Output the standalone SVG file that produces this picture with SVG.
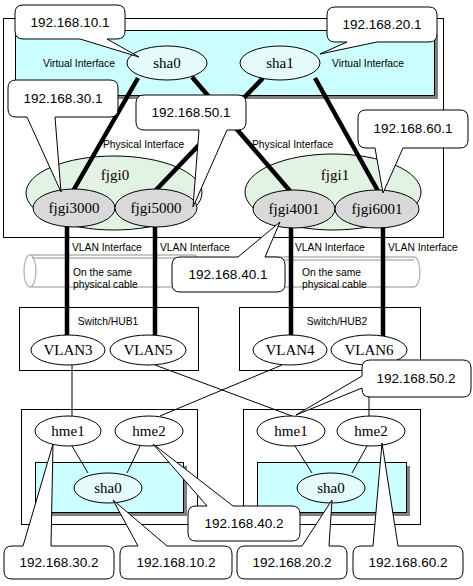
<svg xmlns="http://www.w3.org/2000/svg" width="473" height="586" viewBox="0 0 473 586">
<style>
.box{fill:none;stroke:#000;stroke-width:1}
.cyan{fill:#ccffff;stroke:#000;stroke-width:1}
.shadow{fill:#808080;stroke:none}
.vif{fill:#e6fbfb;stroke:#000;stroke-width:1}
.grp{fill:#e3f3e3;stroke:#000;stroke-width:1}
.pif{fill:#d9d9d9;stroke:#000;stroke-width:1}
.plain{fill:#fff;stroke:#000;stroke-width:1}
.thick{stroke:#000;stroke-width:4.5;fill:none}
.thin{stroke:#000;stroke-width:1;fill:none}
.cable{fill:none;stroke:#b4b4b4;stroke-width:1.3}
.call{fill:#fff;stroke:#000;stroke-width:1}
.ip{font-family:"Liberation Sans",Arial,sans-serif;font-size:13.5px;text-anchor:middle;fill:#000}
.nm{font-family:"Liberation Serif","Times New Roman",serif;font-size:15px;text-anchor:middle;fill:#000}
.lb{font-family:"Liberation Sans",Arial,sans-serif;font-size:10.3px;fill:#000}
</style>

<g id="server-frame">
<rect class="box" x="3.5" y="18.5" width="440" height="219"/>
<rect class="shadow" x="19" y="34" width="419" height="65"/>
<rect class="cyan" x="15.5" y="30.5" width="419" height="65"/>
<text class="lb" x="43" y="67">Virtual Interface</text>
<text class="lb" x="332" y="67">Virtual Interface</text>
<text class="lb" x="103" y="148">Physical Interface</text>
<text class="lb" x="252" y="148">Physical Interface</text>
</g>

<g id="fjgi0"><ellipse class="grp" cx="114" cy="193" rx="88" ry="37"/><text class="nm" x="115" y="180">fjgi0</text></g>
<g id="fjgi1"><ellipse class="grp" cx="333" cy="192" rx="88" ry="38"/><text class="nm" x="335" y="180">fjgi1</text></g>

<g id="cables">
<path class="cable" d="M30,255 H194 A6,16 0 0 1 194,287 H30 A6,16 0 0 1 30,255 Z M30,255 A6,16 0 0 1 30,287 M32,258 H194"/>
<path class="cable" d="M251,257 H414 A6,15 0 0 1 414,287 H251 A6,15 0 0 1 251,257 Z M251,257 A6,15 0 0 1 251,287 M253,260 H414"/>
<text class="lb" x="73" y="276">On the same</text>
<text class="lb" x="73" y="288">physical cable</text>
<text class="lb" x="302" y="276">On the same</text>
<text class="lb" x="302" y="288">physical cable</text>
</g>

<g id="connectors">
<line class="thick" x1="138" y1="78" x2="73" y2="191"/>
<line class="thick" x1="192" y1="77" x2="290" y2="191"/>
<line class="thick" x1="263" y1="78" x2="155" y2="191"/>
<line class="thick" x1="315" y1="78" x2="378" y2="191"/>
<line class="thick" x1="67" y1="226" x2="67" y2="336"/>
<line class="thick" x1="155" y1="226" x2="155" y2="336"/>
<line class="thick" x1="291" y1="227" x2="291" y2="336"/>
<line class="thick" x1="383" y1="227" x2="383" y2="336"/>
<line class="thin" x1="72" y1="365" x2="72" y2="416"/>
<line class="thin" x1="155" y1="365" x2="292" y2="416"/>
<line class="thin" x1="282" y1="365" x2="160" y2="416"/>
<line class="thin" x1="369" y1="365" x2="369" y2="416"/>
</g>

<g id="sha0-top"><ellipse class="vif" cx="167" cy="63" rx="40" ry="17"/><text class="nm" x="167" y="68">sha0</text></g>
<g id="sha1-top"><ellipse class="vif" cx="280" cy="63" rx="40" ry="17"/><text class="nm" x="280" y="68">sha1</text></g>
<g id="fjgi3000"><ellipse class="pif" cx="74" cy="208" rx="41" ry="19"/><text class="nm" x="74" y="213">fjgi3000</text></g>
<g id="fjgi5000"><ellipse class="pif" cx="156" cy="208" rx="41" ry="19"/><text class="nm" x="156" y="213">fjgi5000</text></g>
<g id="fjgi4001"><ellipse class="pif" cx="294" cy="209" rx="41" ry="19"/><text class="nm" x="294" y="214">fjgi4001</text></g>
<g id="fjgi6001"><ellipse class="pif" cx="377" cy="209" rx="42" ry="19"/><text class="nm" x="377" y="214">fjgi6001</text></g>

<g id="vlan-labels">
<text class="lb" x="72" y="251">VLAN Interface</text>
<text class="lb" x="160" y="251">VLAN Interface</text>
<text class="lb" x="295" y="251">VLAN Interface</text>
<text class="lb" x="388" y="251">VLAN Interface</text>
</g>

<g id="switch1">
<rect class="box" x="19.5" y="307.5" width="179" height="63"/>
<text class="lb" x="108" y="325" text-anchor="middle">Switch/HUB1</text>
<ellipse class="plain" cx="68" cy="350" rx="37" ry="15"/><text class="nm" x="68" y="355">VLAN3</text>
<ellipse class="plain" cx="148" cy="350" rx="38" ry="15"/><text class="nm" x="148" y="355">VLAN5</text>
</g>
<g id="switch2">
<rect class="box" x="239.5" y="307.5" width="181" height="63"/>
<text class="lb" x="337" y="325" text-anchor="middle">Switch/HUB2</text>
<ellipse class="plain" cx="290" cy="350" rx="37" ry="15"/><text class="nm" x="290" y="355">VLAN4</text>
<ellipse class="plain" cx="369" cy="350" rx="38" ry="15"/><text class="nm" x="369" y="355">VLAN6</text>
</g>

<g id="host1">
<rect class="box" x="21.5" y="409.5" width="176" height="115"/>
<rect class="shadow" x="39" y="466" width="148" height="50"/>
<rect class="cyan" x="35.5" y="462.5" width="148" height="50"/>
<line class="thin" x1="72" y1="446" x2="88" y2="473"/>
<line class="thin" x1="140" y1="446" x2="127" y2="473"/>
<ellipse class="plain" cx="68" cy="431" rx="33" ry="15"/><text class="nm" x="68" y="436">hme1</text>
<ellipse class="plain" cx="149" cy="431" rx="34" ry="15"/><text class="nm" x="149" y="436">hme2</text>
<ellipse class="vif" cx="108" cy="488" rx="34" ry="15"/><text class="nm" x="108" y="493">sha0</text>
</g>
<g id="host2">
<rect class="box" x="243.5" y="409.5" width="177" height="115"/>
<rect class="shadow" x="261" y="466" width="149" height="50"/>
<rect class="cyan" x="257.5" y="462.5" width="149" height="50"/>
<line class="thin" x1="295" y1="446" x2="312" y2="473"/>
<line class="thin" x1="367" y1="446" x2="352" y2="473"/>
<ellipse class="plain" cx="291" cy="431" rx="34" ry="15"/><text class="nm" x="291" y="436">hme1</text>
<ellipse class="plain" cx="371" cy="431" rx="34" ry="15"/><text class="nm" x="371" y="436">hme2</text>
<ellipse class="vif" cx="331" cy="488" rx="34" ry="15"/><text class="nm" x="331" y="493">sha0</text>
</g>

<g id="callouts">
<g id="c10-1"><path class="call" d="M23,5 H117 Q125,5 125,13 V31 Q125,39 117,39 H107 L139,57 L80,39 H23 Q15,39 15,31 V13 Q15,5 23,5 Z"/><text class="ip" x="70" y="27">192.168.10.1</text></g>
<g id="c20-1"><path class="call" d="M335,7 H429 Q437,7 437,15 V34 Q437,42 429,42 H377 L320,54 L347,42 H335 Q327,42 327,34 V15 Q327,7 335,7 Z"/><text class="ip" x="382" y="29">192.168.20.1</text></g>
<g id="c30-1"><path class="call" d="M16,80 H110 Q118,80 118,88 V109 Q118,117 110,117 H55 L61,192 L27,117 H16 Q8,117 8,109 V88 Q8,80 16,80 Z"/><text class="ip" x="63" y="103">192.168.30.1</text></g>
<g id="c50-1"><path class="call" d="M144,95 H238 Q246,95 246,103 V122 Q246,130 238,130 H227 L193,207 L199,130 H144 Q136,130 136,122 V103 Q136,95 144,95 Z"/><text class="ip" x="191" y="117">192.168.50.1</text></g>
<g id="c60-1"><path class="call" d="M366,110 H460 Q468,110 468,118 V140 Q468,148 460,148 H403 L383,193 L375,148 H366 Q358,148 358,140 V118 Q358,110 366,110 Z"/><text class="ip" x="413" y="133">192.168.60.1</text></g>
<g id="c40-1"><path class="call" d="M180,257 H238 L280,222 L265,257 H277 Q285,257 285,265 V284 Q285,292 277,292 H180 Q172,292 172,284 V265 Q172,257 180,257 Z"/><text class="ip" x="228" y="279">192.168.40.1</text></g>
<g id="c50-2"><path class="call" d="M370,360 H463 Q471,360 471,368 V389 Q471,397 463,397 H370 Q362,397 362,389 V388 L296,415 L362,376 V368 Q362,360 370,360 Z"/><text class="ip" x="416" y="383">192.168.50.2</text></g>
<g id="c40-2"><path class="call" d="M196,506 H207 L153,444 L233,506 H292 Q300,506 300,514 V533 Q300,541 292,541 H196 Q188,541 188,533 V514 Q188,506 196,506 Z"/><text class="ip" x="244" y="528">192.168.40.2</text></g>
<g id="c30-2"><path class="call" d="M12,546 H23 L53,444 L51,546 H106 Q114,546 114,554 V571 Q114,579 106,579 H12 Q4,579 4,571 V554 Q4,546 12,546 Z"/><text class="ip" x="59" y="567">192.168.30.2</text></g>
<g id="c10-2"><path class="call" d="M128,546 H138 L113,500 L167,546 H224 Q232,546 232,554 V571 Q232,579 224,579 H128 Q120,579 120,571 V554 Q120,546 128,546 Z"/><text class="ip" x="176" y="567">192.168.10.2</text></g>
<g id="c20-2"><path class="call" d="M245,546 H302 L332,500 L329,546 H339 Q347,546 347,554 V571 Q347,579 339,579 H245 Q237,579 237,571 V554 Q237,546 245,546 Z"/><text class="ip" x="292" y="567">192.168.20.2</text></g>
<g id="c60-2"><path class="call" d="M361,546 H373 L382,443 L398,546 H455 Q463,546 463,554 V571 Q463,579 455,579 H361 Q353,579 353,571 V554 Q353,546 361,546 Z"/><text class="ip" x="408" y="567">192.168.60.2</text></g>
</g>
</svg>
